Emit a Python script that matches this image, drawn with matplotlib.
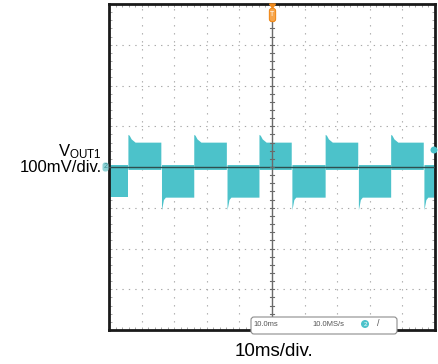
import matplotlib
matplotlib.use("Agg")
import matplotlib.pyplot as plt
from matplotlib.patches import FancyBboxPatch, Circle, Polygon
from matplotlib.transforms import IdentityTransform
import numpy as np

plt.rcParams['font.family'] = ['Liberation Sans', 'DejaVu Sans']

# scope settings: 10 ms/div, 100 mV/div, 10 x 8 divisions
t_div = 10.0
v_div = 100.0
n_tdiv = 10
n_vdiv = 8

# edge times of the output ripple (ms)
rise_ms = [5.8, 26.0, 46.0, 66.3, 86.4]
fall_ms = [15.9, 36.0, 55.9, 76.3, 96.4]

# envelope levels (mV)
high_mv = 61
overshoot_mv = 80
low_mv = -74
undershoot_mv = -105
noise_mv = 6

trace_col = '#4cc2ca'

W, H = 438, 364
fig = plt.figure(figsize=(W / 100, H / 100), dpi=100)
x0, x1, y0, y1 = 109, 435, 4, 330
ax = fig.add_axes([x0 / W, 1 - y1 / H, (x1 - x0) / W, (y1 - y0) / H])
tmax = t_div * n_tdiv
vmax = v_div * n_vdiv / 2
ax.set_xlim(0, tmax)
ax.set_ylim(-vmax, vmax)

# graticule
for k in range(1, n_tdiv):
    if k != n_tdiv // 2:
        ax.axvline(k * t_div, color='#a8a8a8', lw=0.8, ls=(0, (1.2, 6)), zorder=1)
for k in range(1, n_vdiv):
    v = -vmax + k * v_div
    if v != 0:
        ax.axhline(v, color='#a8a8a8', lw=0.8, ls=(0, (1.2, 4.6)), zorder=1)

# upper pulses
for r, f in zip(rise_ms, fall_ms):
    tt = [r, r + 0.4, r + 1.0, r + 2.2, f]
    top = [overshoot_mv, overshoot_mv - 2, high_mv + 8, high_mv, high_mv]
    ax.fill_between(tt, [-noise_mv] * len(tt), top, color=trace_col, lw=0, zorder=2)

# lower pulses between falling and rising edges
starts = [0] + fall_ms
ends = rise_ms + [tmax]
for s, e in zip(starts, ends):
    if s == 0:
        tt = [s, e]
        bot = [low_mv, low_mv]
    else:
        tt = [s + 0.2, s + 0.45, s + 0.8, s + 1.4, e]
        bot = [undershoot_mv, undershoot_mv + 10, low_mv - 6, low_mv, low_mv]
    ax.fill_between(tt, bot, [noise_mv] * len(tt), color=trace_col, lw=0, zorder=2)

# centre axes with fine ticks
ax.axvline(tmax / 2, color='#6a6a6a', lw=1.0, zorder=3)
ax.axhline(0, color='#2f4f4f', lw=1.0, zorder=3)
for v in np.arange(-vmax, vmax + 1, v_div / 5):
    ax.plot([tmax / 2 - 0.6, tmax / 2 + 0.6], [v, v], color='#6a6a6a', lw=0.8, zorder=3)

# frame
for sp in ax.spines.values():
    sp.set_linewidth(2.0)
    sp.set_color('#1a1a1a')
ax.set_xticks(np.arange(0, tmax + 0.1, t_div / 5))
ax.set_yticks(np.arange(-vmax, vmax + 1, v_div / 5))
ax.tick_params(direction='in', length=2.5, width=0.6, color='#999999',
               labelbottom=False, labelleft=False, top=True, right=True)

px = IdentityTransform()

def py(y):
    return H - y

# trigger position marker
fig.patches.append(Polygon([[269.5, py(4)], [275.5, py(4)], [272.5, py(8)]], closed=True,
                           color='#f08a1c', transform=px, zorder=5))
fig.patches.append(FancyBboxPatch((270, py(21)), 5, 12, boxstyle='round,pad=0.6,rounding_size=2.5',
                                  fc='#f7a54a', ec='#f08a1c', lw=0.8, transform=px, zorder=5))
fig.text(272.5, py(15), 'T', color='white', fontsize=5, ha='center', va='center', transform=px, zorder=6)

# channel 2 ground marker
fig.patches.append(FancyBboxPatch((103, py(171)), 5, 8, boxstyle='round,pad=0.5,rounding_size=2.5',
                                  fc='#8fd3d6', ec='none', transform=px, zorder=5))
fig.text(106, py(167), '2', color='#3a8f94', fontsize=5, ha='center', va='center', transform=px, zorder=6)

# trigger level marker on right edge
fig.patches.append(Circle((434, py(150)), 3.5, fc=trace_col, ec='none', transform=px, zorder=5))

# status bar
fig.patches.append(FancyBboxPatch((251, py(334)), 146, 17, boxstyle='round,pad=0,rounding_size=3',
                                  fc='white', ec='#8c8c8c', lw=0.8, transform=px, zorder=4))
ax.spines['bottom'].set_zorder(6)
fig.text(253, py(324), '10.0ms', fontsize=5.5, color='#555555', va='center', transform=px, zorder=6)
fig.text(312, py(324), '10.0MS/s', fontsize=5.5, color='#555555', va='center', transform=px, zorder=6)
fig.patches.append(Circle((365, py(324)), 4, fc=trace_col, ec='none', transform=px, zorder=6))
fig.text(365, py(324), '2', fontsize=4.5, color='white', ha='center', va='center', transform=px, zorder=7)
fig.text(378, py(324), '/', fontsize=6.5, color='#555555', ha='center', va='center', transform=px, zorder=6)

# channel label
fig.text(102, py(172.5), '$\\mathregular{V_{OUT1}}$\n100mV/div.', fontsize=12,
         ha='right', va='baseline', multialignment='right', linespacing=0.95, transform=px)

# time base label
fig.text(274, py(356), '10ms/div.', fontsize=13.5, ha='center', va='baseline', transform=px)

fig.savefig('out.png', dpi=100)
